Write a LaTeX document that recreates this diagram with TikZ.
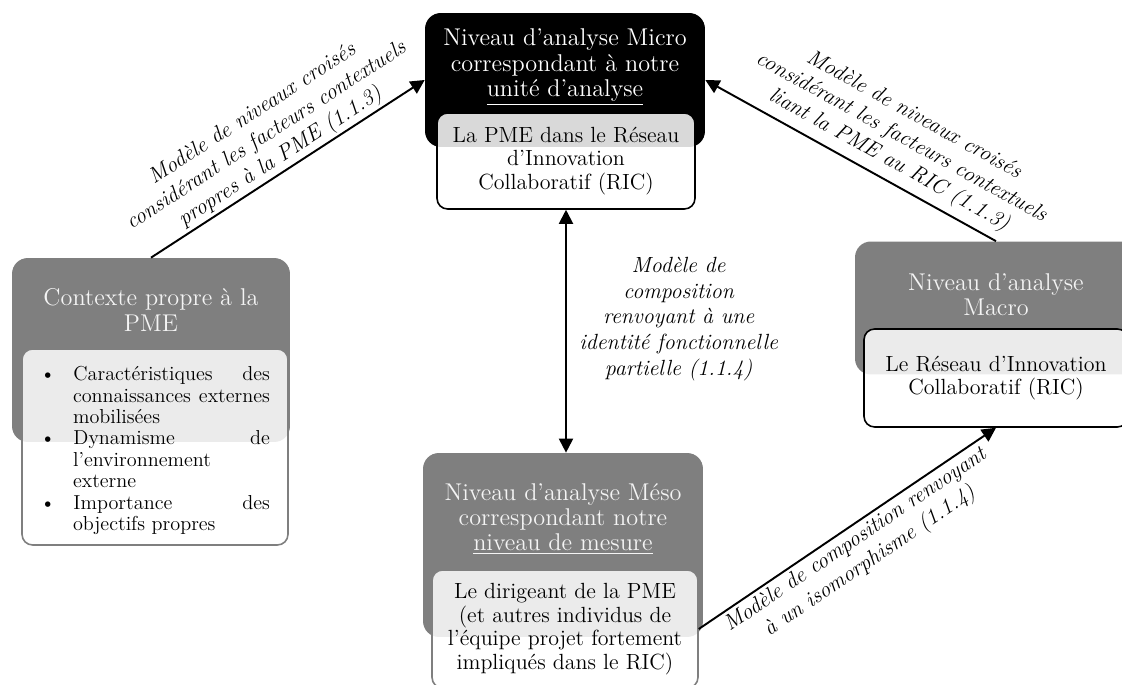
\documentclass[tikz,border=0pt]{standalone}
\usepackage{fontspec}
\usepackage{tikz}
\usetikzlibrary{arrows.meta,positioning}
\definecolor{lvlgrey}{HTML}{7F7F7F}
\definecolor{titlec}{HTML}{F4F4F4}

\begin{document}
\begin{tikzpicture}[x=0.02cm,y=-0.02cm,
  font=\fontsize{12.5}{13.5}\selectfont,
  >={Triangle[length=8pt,width=8pt]},
  lvl/.style={fill=lvlgrey,rounded corners=9pt,minimum width=5.6cm,minimum height=3.68cm},
  ttl/.style={text=titlec,align=center,inner sep=0pt,font=\fontsize{13.8}{14.4}\selectfont},
  box/.style={fill=white,fill opacity=0.85,text opacity=1,rounded corners=6pt,
              align=center,line width=0.9pt},
  linklab/.style={font=\fontsize{12.5}{14.6}\selectfont\itshape,align=center,inner sep=1pt},
  lnk/.style={line width=1.1pt},
]
\useasboundingbox (0,0) rectangle (1122,685);

% micro level
\node[lvl,fill=black,minimum height=2.68cm] (micro) at (565,80) {};
\node[ttl,text=white] (microT) at (565,67)
  {Niveau d’analyse Micro\\correspondant à notre\\\underline{unité d’analyse}};
\node[box,draw=black,minimum width=5.16cm,minimum height=1.92cm] (microIn) at (566,161)
  {La PME dans le Réseau\\d’Innovation\\Collaboratif (RIC)};

% context of the SME
\node[lvl,minimum width=5.56cm] (ctx) at (151,350) {};
\node[ttl] (ctxT) at (151,310) {Contexte propre à la\\PME};
\node[box,draw=lvlgrey,minimum width=5.32cm,minimum height=3.92cm,text width=4.6cm,
      align=justify,font=\fontsize{11.5}{12.2}\selectfont] (ctxIn) at (155,447)
  {\hyphenpenalty=10000\tolerance=10000
   \begin{list}{\textbullet}{\setlength{\leftmargin}{0.66cm}\setlength{\labelwidth}{0.3cm}%
     \setlength{\labelsep}{0.36cm}\setlength{\topsep}{0pt}\setlength{\partopsep}{0pt}%
     \setlength{\itemsep}{0pt}\setlength{\parsep}{0pt}%
     \renewcommand{\makelabel}[1]{#1\hfil}}
   \item Caractéristiques des connaissances externes mobilisées
   \item Dynamisme de l’environnement externe
   \item Importance des objectifs propres
   \end{list}};

% meso level
\node[lvl] (meso) at (563,545) {};
\node[ttl] (mesoT) at (563,519)
  {Niveau d’analyse Méso\\correspondant notre\\\underline{niveau de mesure}};
\node[box,draw=lvlgrey,minimum width=5.32cm,minimum height=2.36cm] (mesoIn) at (565,629)
  {Le dirigeant de la PME\\(et autres individus de\\l’équipe projet fortement\\impliqués dans le RIC)};

% macro level
\node[lvl,minimum width=5.64cm,minimum height=2.66cm] (macro) at (996,308) {};
\node[ttl] (macroT) at (996,295) {Niveau d’analyse\\Macro};
\node[box,draw=black,minimum width=5.28cm,minimum height=1.96cm] (macroIn) at (996,378)
  {Le Réseau d’Innovation\\Collaboratif (RIC)};

% links
\draw[lnk,->] (ctx.north) -- node[linklab,midway,above,sloped] (labCtx)
  {Modèle de niveaux croisés\\considérant les facteurs contextuels\\propres à la PME (1.1.3)} (micro.west);
\draw[lnk,<-] (micro.east) -- node[linklab,pos=0.6,above=3pt,sloped] (labMacro)
  {Modèle de niveaux croisés\\considérant les facteurs contextuels\\liant la PME au RIC (1.1.3)} (macro.north);
\draw[lnk,<->] (microIn.south) -- node[linklab,pos=0.45,right=6pt] (labMeso)
  {Modèle de\\composition\\renvoyant à une\\identité fonctionnelle\\partielle (1.1.4)} (microIn.south |- meso.north);
\draw[lnk,->] (mesoIn.east) -- node[linklab,midway,below=1pt,sloped] (labIso)
  {Modèle de composition renvoyant\\à un isomorphisme (1.1.4)} (macroIn.south);
\end{tikzpicture}
\end{document}
